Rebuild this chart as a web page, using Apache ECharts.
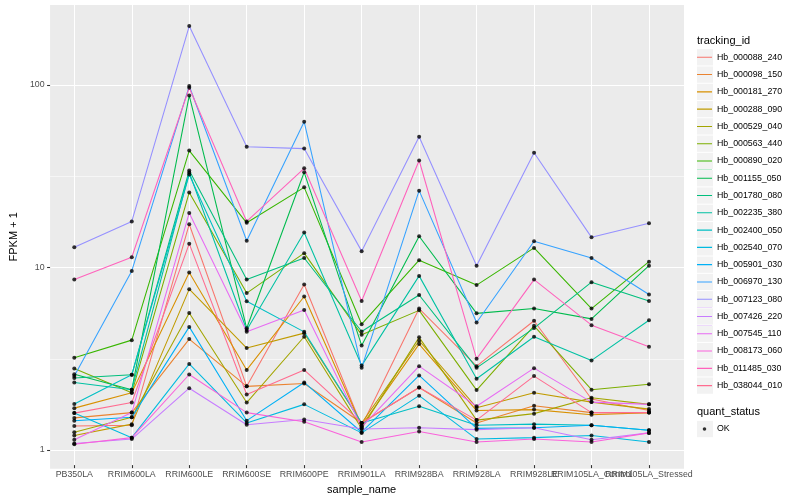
<!DOCTYPE html>
<html><head><meta charset="utf-8">
<script src="https://cdn.jsdelivr.net/npm/echarts@6/dist/echarts.min.js"></script>
<style>html,body{margin:0;padding:0;background:#fff}#c{width:800px;height:500px}</style>
</head><body><div id="c"></div>
<script>
const categories = ['PB350LA','RRIM600LA','RRIM600LE','RRIM600SE','RRIM600PE','RRIM901LA','RRIM928BA','RRIM928LA','RRIM928LE','RRIM105LA_Control','RRIM105LA_Stressed'];
const yMajorTicks = [1, 10, 100];
const yMinorTicks = [3.1623, 31.623];
const yRange = [0.790, 274.4];

const Hb_000088_240 = [1.30, 1.31, 16.9, 2.15, 7.85, 1.30, 5.78, 2.78, 4.95, 1.83, 1.58];
const Hb_000098_150 = [1.44, 1.54, 3.92, 2.15, 2.23, 1.35, 2.12, 1.35, 1.68, 1.54, 1.54];
const Hb_000181_270 = [1.63, 1.98, 9.14, 2.65, 6.74, 1.30, 3.68, 1.58, 1.60, 1.50, 1.54];
const Hb_000288_090 = [1.15, 1.33, 7.40, 3.50, 4.23, 1.35, 3.84, 1.64, 1.98, 1.76, 1.61];
const Hb_000529_040 = [1.20, 1.45, 5.47, 1.75, 4.04, 1.26, 4.01, 1.40, 1.52, 1.86, 1.71];
const Hb_000563_440 = [2.70, 1.98, 25.3, 7.04, 11.7, 4.14, 5.65, 2.05, 4.64, 2.06, 2.21];
const Hb_000890_020 = [3.09, 3.87, 43.1, 17.2, 27.0, 4.74, 10.7, 7.79, 12.5, 5.78, 10.5];
const Hb_001155_050 = [2.51, 2.06, 86.7, 4.5, 32.7, 3.62, 14.5, 5.44, 5.78, 5.07, 9.97];
const Hb_001780_080 = [2.39, 2.49, 33.5, 8.36, 11.0, 4.32, 6.87, 2.72, 4.51, 8.09, 6.37];
const Hb_002235_380 = [2.26, 2.06, 32.6, 4.4, 15.2, 2.80, 8.76, 2.37, 4.04, 2.99, 4.98];
const Hb_002400_050 = [1.72, 2.49, 31.8, 6.34, 4.30, 1.35, 1.67, 1.31, 1.33, 1.31, 1.23];
const Hb_002540_070 = [1.53, 1.12, 2.86, 1.35, 1.71, 1.19, 1.91, 1.10, 1.12, 1.15, 1.06];
const Hb_005901_030 = [1.39, 1.45, 4.58, 1.39, 2.26, 1.20, 2.47, 1.26, 1.27, 1.31, 1.23];
const Hb_006970_130 = [2.45, 9.33, 97.9, 13.7, 62.1, 2.72, 25.9, 4.84, 13.6, 11.0, 6.92];
const Hb_007123_080 = [12.6, 17.5, 210, 45.3, 44.2, 12.0, 51.4, 9.97, 41.9, 14.3, 17.1];
const Hb_007426_220 = [1.04, 1.10, 2.10, 1.32, 1.41, 1.25, 1.27, 1.24, 1.27, 1.09, 1.19];
const Hb_007545_110 = [1.09, 1.54, 19.5, 4.3, 5.68, 1.28, 2.78, 1.67, 2.71, 1.76, 1.71];
const Hb_008173_060 = [1.03, 1.12, 2.50, 1.54, 1.37, 1.06, 1.21, 1.06, 1.10, 1.06, 1.19];
const Hb_011485_030 = [8.36, 11.1, 95.8, 17.5, 34.4, 6.37, 38.0, 3.05, 8.36, 4.68, 3.56];
const Hb_038044_010 = [1.53, 1.75, 13.2, 1.94, 2.65, 1.35, 2.12, 1.40, 2.45, 1.54, 1.54];

const trackingIds = ['Hb_000088_240','Hb_000098_150','Hb_000181_270','Hb_000288_090','Hb_000529_040','Hb_000563_440','Hb_000890_020','Hb_001155_050','Hb_001780_080','Hb_002235_380','Hb_002400_050','Hb_002540_070','Hb_005901_030','Hb_006970_130','Hb_007123_080','Hb_007426_220','Hb_007545_110','Hb_008173_060','Hb_011485_030','Hb_038044_010'];
const seriesValues = [Hb_000088_240,Hb_000098_150,Hb_000181_270,Hb_000288_090,Hb_000529_040,Hb_000563_440,Hb_000890_020,Hb_001155_050,Hb_001780_080,Hb_002235_380,Hb_002400_050,Hb_002540_070,Hb_005901_030,Hb_006970_130,Hb_007123_080,Hb_007426_220,Hb_007545_110,Hb_008173_060,Hb_011485_030,Hb_038044_010];
const palette = ['#F8766D','#EA8331','#D89000','#C09B00','#A3A500','#7CAE00','#39B600','#00BB4E','#00BF7D','#00C1A3','#00BFC4','#00BAE0','#00B0F6','#35A2FF','#9590FF','#C77CFF','#E76BF3','#FA62DB','#FF62BC','#FF6C90'];
const quantStatus = ['OK'];

const FONT = '"Liberation Sans", Arial, Helvetica, sans-serif';
const chart = echarts.init(document.getElementById('c'), null, {renderer: 'canvas'});

const P = {left: 40, right: 684, top: 5, bottom: 468.7};
const catLeft = 74.3, catRight = 649;

const lineSeries = trackingIds.map((id, i) => ({
  name: id, type: 'line', xAxisIndex: 1, yAxisIndex: 2,
  data: seriesValues[i], symbol: 'none', silent: true,
  color: palette[i], lineStyle: {width: 1.07, color: palette[i]}, z: 2
}));
const okPoints = [];
seriesValues.forEach(arr => arr.forEach((v, j) => okPoints.push([categories[j], v])));

const legendLine = 'path://M0,0h15v0.02h-15z M0,8.1h15v1.08h-15z M0,17.26h15v0.02h-15z';
const legendDot = 'path://M0,0h0.02v0.02h-0.02z M9.3,8.64a1.8,1.8 0 1,1 -3.6,0a1.8,1.8 0 1,1 3.6,0z M14.98,17.26h0.02v0.02h-0.02z';

const legTop = 48.66, pitch = 17.28, okTop = 420.4;
const keyBoxes = trackingIds.map((id, i) => ({
  type: 'rect', shape: {x: 697, y: legTop + i * pitch + 0.5, width: 16, height: pitch - 1},
  style: {fill: '#F2F2F2'}, z: -5, silent: true
}));
keyBoxes.push({type: 'rect', shape: {x: 697, y: okTop + 0.5, width: 16, height: pitch - 1}, style: {fill: '#F2F2F2'}, z: -5, silent: true});

const logAxisBase = {type: 'log', logBase: 10, min: yRange[0], max: yRange[1]};

const option = {
  backgroundColor: '#ffffff',
  animation: false,
  textStyle: {fontFamily: FONT},
  graphic: {elements: [
    ...keyBoxes,
    {type: 'text', x: 697, y: 40.7, style: {text: 'tracking_id', fontSize: 11, fontFamily: FONT, fill: '#000', align: 'left', verticalAlign: 'middle'}},
    {type: 'text', x: 697, y: 412.3, style: {text: 'quant_status', fontSize: 11, fontFamily: FONT, fill: '#000', align: 'left', verticalAlign: 'middle'}}
  ]},
  grid: [
    {left: P.left, width: P.right - P.left, top: P.top, height: P.bottom - P.top, show: true, backgroundColor: '#EBEBEB', borderWidth: 0},
    {left: catLeft, width: catRight - catLeft, top: P.top, height: P.bottom - P.top, show: false}
  ],
  xAxis: [
    {gridIndex: 0, type: 'value', min: 0, max: 1, show: false},
    {gridIndex: 1, type: 'category', data: categories, boundaryGap: false,
      axisLine: {show: false}, axisTick: {show: true, length: 3, alignWithLabel: true, lineStyle: {color: '#333333', width: 1.07}},
      axisLabel: {interval: 0, hideOverlap: false, margin: 5, fontSize: 8.8, color: '#4D4D4D', fontFamily: FONT},
      splitLine: {show: true, interval: 0, lineStyle: {color: '#ffffff', width: 1.07}},
      name: 'sample_name', nameLocation: 'middle', nameGap: 14,
      nameTextStyle: {fontSize: 11, color: '#000', fontFamily: FONT}}
  ],
  yAxis: [
    Object.assign({gridIndex: 0, position: 'left',
      axisLine: {show: false},
      axisTick: {show: true, length: 3, customValues: yMajorTicks, lineStyle: {color: '#333333', width: 1.07}},
      axisLabel: {margin: 5.5, fontSize: 8.8, color: '#4D4D4D', fontFamily: FONT, customValues: yMajorTicks,
        formatter: v => String(Math.round(v))},
      splitLine: {show: true, lineStyle: {color: '#ffffff', width: 1.07}},
      name: 'FPKM + 1', nameLocation: 'middle', nameGap: 27, nameRotate: 90,
      nameTextStyle: {fontSize: 11, color: '#000', fontFamily: FONT}, z: 1}, logAxisBase),
    Object.assign({gridIndex: 0, position: 'right',
      axisLine: {show: false}, axisTick: {show: false, customValues: yMinorTicks}, axisLabel: {show: false, customValues: yMinorTicks},
      splitLine: {show: true, lineStyle: {color: '#ffffff', width: 0.55}}, z: 0}, logAxisBase),
    Object.assign({gridIndex: 1, show: false}, logAxisBase)
  ],
  legend: [
    {data: trackingIds, orient: 'vertical', left: 697, top: legTop, padding: 0, itemGap: 0,
      itemWidth: 15, itemHeight: pitch, icon: legendLine, selectedMode: false,
      textStyle: {fontSize: 8.8, color: '#000', fontFamily: FONT}},
    {data: quantStatus, orient: 'vertical', left: 697, top: okTop, padding: 0, itemGap: 0,
      itemWidth: 15, itemHeight: pitch, icon: legendDot, selectedMode: false,
      textStyle: {fontSize: 8.8, color: '#000', fontFamily: FONT}}
  ],
  series: [
    ...lineSeries,
    {name: 'OK', type: 'scatter', xAxisIndex: 1, yAxisIndex: 2, data: okPoints,
      symbol: 'circle', symbolSize: 4, color: '#000000', itemStyle: {color: '#000000'}, z: 5, silent: true}
  ]
};
chart.setOption(option);
</script>
</body></html>
